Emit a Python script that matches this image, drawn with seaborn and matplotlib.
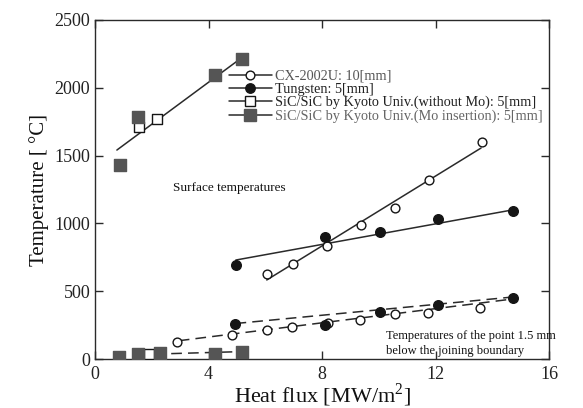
import matplotlib
matplotlib.use("Agg")
import matplotlib.pyplot as plt
from matplotlib.lines import Line2D
import seaborn as sns
import pandas as pd

# ---- data ----
cx_surf_x = [6.05, 6.97, 8.18, 9.36, 10.56, 11.76, 13.62]
cx_surf_y = [627, 700, 833, 988, 1113, 1320, 1600]
w_surf_x = [4.96, 8.10, 10.04, 12.08, 14.72]
w_surf_y = [693, 900, 937, 1032, 1095]
nomo_surf_x = [1.55, 2.18]
nomo_surf_y = [1711, 1770]
mo_surf_x = [0.88, 1.52, 4.22, 5.18]
mo_surf_y = [1431, 1785, 2094, 2212]

cx_bot_x = [2.89, 4.82, 6.05, 6.94, 8.20, 9.33, 10.56, 11.73, 13.56]
cx_bot_y = [125, 177, 214, 236, 268, 288, 332, 339, 376]
w_bot_x = [4.93, 8.10, 10.04, 12.08, 14.72]
w_bot_y = [258, 251, 347, 398, 450]
nomo_bot_x = [1.55, 1.90]
nomo_bot_y = [30, 35]
mo_bot_x = [0.85, 1.52, 2.28, 4.22, 5.18]
mo_bot_y = [15, 37, 44, 37, 52]

# fitted trend lines (end points)
mo_fit_x, mo_fit_y = [0.77, 5.15], [1541, 2219]
cx_fit_x, cx_fit_y = [6.05, 13.6], [583, 1556]
w_fit_x, w_fit_y = [4.96, 14.72], [730, 1100]
cx_bfit_x, cx_bfit_y = [2.95, 14.8], [135, 445]
w_bfit_x, w_bfit_y = [4.95, 14.75], [262, 458]
mo_bfit_x, mo_bfit_y = [1.5, 5.2], [33, 55]

x_ticks = [0, 4, 8, 12, 16]
y_ticks = [0, 500, 1000, 1500, 2000, 2500]

labels = ["CX-2002U: 10[mm]", "Tungsten: 5[mm]",
          "SiC/SiC by Kyoto Univ.(without Mo): 5[mm]",
          "SiC/SiC by Kyoto Univ.(Mo insertion): 5[mm]"]

sns.set_style("ticks")
plt.rcParams["font.family"] = ["Liberation Serif", "DejaVu Serif"]
plt.rcParams["mathtext.fontset"] = "custom"
plt.rcParams["mathtext.rm"] = "Liberation Serif"

fig = plt.figure(figsize=(5.83, 4.08), dpi=100)
ax = fig.add_axes([0.163, 0.120, 0.779, 0.831])

LC = "#2a2a2a"
MO = "#555555"
BK = "#151515"

def fit(xs, ys, dashed=False):
    sns.lineplot(x=xs, y=ys, ax=ax, color=LC, lw=1.1,
                 linestyle=(0, (7, 4)) if dashed else "-", zorder=2)

fit(mo_fit_x, mo_fit_y)
fit(cx_fit_x, cx_fit_y)
fit(w_fit_x, w_fit_y)
fit(cx_bfit_x, cx_bfit_y, True)
fit(w_bfit_x, w_bfit_y, True)
fit(mo_bfit_x, mo_bfit_y, True)

def pts(xs, ys, marker, fc, s, ec):
    sns.scatterplot(x=xs, y=ys, ax=ax, marker=marker, s=s, color=fc,
                    edgecolor=ec, linewidth=1.0, zorder=3)

pts(cx_surf_x, cx_surf_y, "o", "white", 40, BK)
pts(cx_bot_x, cx_bot_y, "o", "white", 40, BK)
pts(w_surf_x, w_surf_y, "o", BK, 48, BK)
pts(w_bot_x, w_bot_y, "o", BK, 48, BK)
pts(nomo_surf_x, nomo_surf_y, "s", "white", 55, BK)
pts(nomo_bot_x, nomo_bot_y, "s", "white", 55, BK)
pts(mo_surf_x, mo_surf_y, "s", MO, 80, MO)
pts(mo_bot_x, mo_bot_y, "s", MO, 80, MO)

ax.set_xlim(0, 16)
ax.set_ylim(0, 2500)
ax.set_xticks(x_ticks)
ax.set_yticks(y_ticks)
ax.tick_params(direction="in", length=6, width=1, labelsize=13,
               top=True, right=True, colors=LC, labelcolor="#222222")
ax.tick_params(axis="x", pad=5)
for sp in ax.spines.values():
    sp.set_linewidth(1.0)
    sp.set_color(LC)

ax.set_xlabel(r"Heat flux [MW/m$^{2}$]", fontsize=16, labelpad=-1, color="#111111")
ax.set_ylabel("Temperature [ \u00b0C]", fontsize=15, labelpad=4, color="#111111")

handles = [
    Line2D([], [], color=LC, lw=1.1, marker="o", mfc="white", mec=BK, ms=6.3),
    Line2D([], [], color=LC, lw=1.1, marker="o", mfc=BK, mec=BK, ms=6.8),
    Line2D([], [], color=LC, lw=1.1, marker="s", mfc="white", mec=BK, ms=7.2),
    Line2D([], [], color=LC, lw=1.1, marker="s", mfc=MO, mec=MO, ms=8.5),
]
ax.legend(handles, labels, loc="upper left", bbox_to_anchor=(0.295, 0.853),
          frameon=False, fontsize=10.3, handlelength=3.0, handletextpad=0.2,
          labelspacing=0.0, borderpad=0, borderaxespad=0,
          labelcolor=["#555555", "#222222", "#222222", "#666666"])

ax.text(2.75, 1262, "Surface temperatures", fontsize=9.5, va="center",
        ha="left", color="#111111")
ax.text(10.25, 112, "Temperatures of the point 1.5 mm\nbelow the joining boundary",
        fontsize=9, va="center", ha="left", color="#111111", linespacing=1.35,
        clip_on=False)

fig.savefig("out.png", dpi=100)
